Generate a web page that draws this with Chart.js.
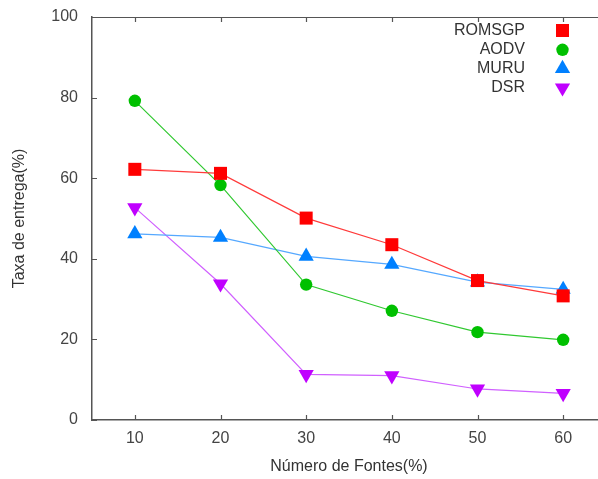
<!DOCTYPE html>
<html lang="en">
<head>
  <meta charset="UTF-8" />
  <title>Taxa de entrega</title>
  <script src="https://cdn.jsdelivr.net/npm/chart.js@4.4.1"></script>
  <style>
    html, body { margin:0; padding:0; background:#fff; overflow:hidden; }
    #wrap { width:606px; height:479px; }
  </style>
</head>
<body>
<div id="wrap"><canvas id="myChart" width="606" height="479"></canvas></div>

<script>
  // values
  var fontes  = [10, 20, 30, 40, 50, 60];
  var yTicks  = [0, 20, 40, 60, 80, 100];
  var romsgp  = [62.2, 61.2, 50.1, 43.5, 34.6, 30.8];
  var aodv    = [79.2, 58.3, 33.6, 27.1, 21.8, 19.9];
  var muru    = [46.2, 45.3, 40.6, 38.6, 34.2, 32.4];
  var dsr     = [52.7, 33.8, 11.3, 11.0, 7.7, 6.6];

  var FONT = 'Liberation Sans, Arial, sans-serif';
  var AXIS = '#555';
  var TXT  = '#444';

  function pts(list){
    return list.map(function(v,i){ return {x:fontes[i], y:v}; });
  }

  function makeSet(name, list, col, line, style, r, rot){
    return {
      label:name, data:pts(list),
      borderColor:line, borderWidth:1.2,
      backgroundColor:col, pointBackgroundColor:col, pointBorderColor:col,
      pointBorderWidth:0, pointStyle:style, pointRadius:r, pointRotation:rot||0,
      pointHoverRadius:r, tension:0, fill:false
    };
  }

  // inward tick marks, top frame line and the legend
  var extras = {
    id:'extras',
    afterDraw:function(c){
      var g = c.ctx, a = c.chartArea, sx = c.scales.x, sy = c.scales.y;
      g.save();
      g.strokeStyle = AXIS; g.lineWidth = 1.2;
      g.beginPath();
      g.moveTo(a.left, a.top + 0.5); g.lineTo(a.right, a.top + 0.5);
      fontes.forEach(function(v){
        var px = Math.round(sx.getPixelForValue(v)) + 0.5;
        g.moveTo(px, a.bottom); g.lineTo(px, a.bottom - 5);
        g.moveTo(px, a.top);    g.lineTo(px, a.top + 5);
      });
      yTicks.forEach(function(v){
        var py = Math.round(sy.getPixelForValue(v)) + 0.5;
        g.moveTo(a.left, py); g.lineTo(a.left + 5, py);
      });
      g.stroke();

      var rows = [30.5, 49.8, 68.5, 87.8];
      g.font = '16px ' + FONT;
      g.fillStyle = '#333';
      g.textAlign = 'right'; g.textBaseline = 'middle';
      c.data.datasets.forEach(function(ds, i){
        g.fillText(ds.label, 525, rows[i]);
        g.fillStyle = ds.pointBackgroundColor; g.strokeStyle = ds.pointBackgroundColor;
        Chart.helpers.drawPoint(g, {pointStyle:ds.pointStyle, radius:ds.pointRadius,
          rotation:ds.pointRotation, borderWidth:0}, 562.5, rows[i]);
        g.fillStyle = '#333';
      });
      g.restore();
    }
  };

  var chart = new Chart(document.getElementById('myChart'), {
    type:'line',
    data:{ datasets:[
      makeSet('ROMSGP', romsgp, '#ff0000', '#ff3a3a', 'rect', 9.2),
      makeSet('AODV',   aodv,   '#00c000', '#30c830', 'circle', 6.2),
      makeSet('MURU',   muru,   '#0080ff', '#55a8ff', 'triangle', 8.8),
      makeSet('DSR',    dsr,    '#c000ff', '#d060ff', 'triangle', 8.8, 180)
    ]},
    options:{
      responsive:false, animation:false, devicePixelRatio:1,
      layout:{ autoPadding:false, padding:{ top:17, right:0, left:0, bottom:0 } },
      plugins:{ legend:{display:false}, tooltip:{enabled:false} },
      scales:{
        x:{
          type:'linear', min:5, max:65,
          afterBuildTicks:function(s){ s.ticks = fontes.map(function(v){ return {value:v}; }); },
          afterFit:function(s){ s.height = 59; s.paddingLeft = 0; s.paddingRight = 0; },
          grid:{ display:false, drawTicks:false },
          border:{ display:true, color:AXIS, width:1.5 },
          ticks:{ padding:8.7, color:TXT, font:{family:FONT, size:16}, maxRotation:0 },
          title:{ display:true, text:'Número de Fontes(%)', color:'#333',
                  font:{family:FONT, size:16}, padding:{top:0, bottom:2.9} }
        },
        y:{
          min:0, max:100,
          afterBuildTicks:function(s){ s.ticks = yTicks.map(function(v){ return {value:v}; }); },
          afterFit:function(s){ s.width = 92; s.paddingTop = 0; s.paddingBottom = 0; },
          grid:{ display:false, drawTicks:false },
          border:{ display:true, color:AXIS, width:1.5 },
          ticks:{ padding:14, color:TXT, font:{family:FONT, size:16} },
          title:{ display:true, text:'Taxa de entrega(%)', color:'#333',
                  font:{family:FONT, size:16}, padding:{top:10.4, bottom:0} }
        }
      }
    },
    plugins:[extras]
  });
</script>
</body>
</html>
